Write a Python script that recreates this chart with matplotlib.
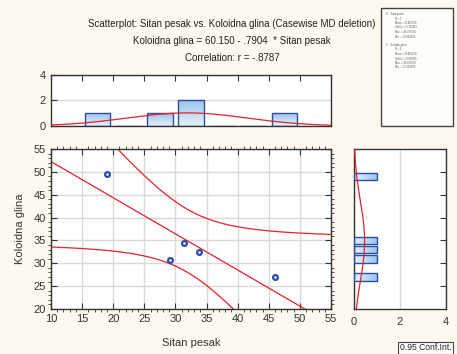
import matplotlib.pyplot as plt
import numpy as np
from matplotlib.ticker import MultipleLocator
from matplotlib.patches import Rectangle

sitan = np.array([19.0, 29.2, 31.3, 33.8, 46.0])
glina = np.array([49.5, 30.8, 34.5, 32.5, 27.0])
x_edges = np.arange(15, 55, 5)      # histogram bins for Sitan pesak
y_edges = np.arange(26, 52, 2)      # histogram bins for Koloidna glina
intercept, slope = 60.150, -0.7904
t_crit = 3.1824                     # t(0.975, df=3)

title_lines = ["Scatterplot: Sitan pesak vs. Koloidna glina (Casewise MD deletion)",
               "Koloidna glina = 60.150 - .7904  * Sitan pesak",
               "Correlation: r = -.8787"]
stats_x = ["X:   Sitan pesak", "N = 5", "Mean = 31.860000", "Std.Dv. = 9.702319",
           "Max. = 46.000000", "Min. = 19.000000"]
stats_y = ["Y:   Koloidna glina", "N = 5", "Mean = 34.860000", "Std.Dv. = 8.635855",
           "Max. = 49.500000", "Min. = 27.000000"]

plt.rcParams['font.family'] = ['Liberation Sans', 'DejaVu Sans']
BG = '#fdf9f0'
RED = '#e8202a'
BLUE = '#2a4ea6'
SPINE = '#333333'

W, H = 457, 354
fig = plt.figure(figsize=(W / 100, H / 100), dpi=100, facecolor=BG)


def box(l, t, r, b):
    return [l / W, 1 - b / H, (r - l) / W, (b - t) / H]


def style(ax):
    ax.set_facecolor('white')
    for s in ax.spines.values():
        s.set_color(SPINE)
        s.set_linewidth(1.0)
    ax.tick_params(colors=SPINE, labelcolor='#333333', labelsize=8, direction='in')


def grad_bar(ax, x0, y0, w, h, horizontal):
    rect = Rectangle((x0, y0), w, h, facecolor='none', edgecolor=BLUE, lw=1.0, zorder=3)
    ax.add_patch(rect)
    if w == 0 or h == 0:
        return
    g = np.linspace(0, 1, 64)
    img = g[None, :] if horizontal else g[::-1, None]
    im = ax.imshow(img, cmap=plt.matplotlib.colors.LinearSegmentedColormap.from_list(
        'b', ['#e6f1fb', '#9dc3ea']), extent=(x0, x0 + w, y0, y0 + h),
        aspect='auto', origin='upper', zorder=2, interpolation='bilinear')
    im.set_clip_path(rect)


# main scatter
ax = fig.add_axes(box(51, 149, 331, 309))
style(ax)
ax.set_xlim(10, 55)
ax.set_ylim(20, 55)
ax.xaxis.set_major_locator(MultipleLocator(5))
ax.yaxis.set_major_locator(MultipleLocator(5))
ax.xaxis.set_minor_locator(MultipleLocator(1))
ax.yaxis.set_minor_locator(MultipleLocator(1))
ax.tick_params(which='both', top=True, right=True)
ax.tick_params(which='major', length=4)
ax.tick_params(which='minor', length=2, color=SPINE)
ax.grid(True, which='major', color='#d9d9d9', lw=1.0)
ax.set_axisbelow(True)

n = len(sitan)
xm = sitan.mean()
sxx = ((sitan - xm) ** 2).sum()
resid = glina - (intercept + slope * sitan)
s = np.sqrt((resid ** 2).sum() / (n - 2))
xs = np.linspace(10, 55, 300)
fit = intercept + slope * xs
half = t_crit * s * np.sqrt(1 / n + (xs - xm) ** 2 / sxx)
for yy in (fit, fit - half, fit + half):
    ax.plot(xs, yy, color=RED, lw=0.9)
ax.scatter(sitan, glina, s=12, facecolor='white', edgecolor=BLUE, lw=1.6, zorder=4)
ax.set_xlabel("Sitan pesak", fontsize=8, color='#333333', labelpad=10)
ax.set_ylabel("Koloidna glina", fontsize=8, color='#333333', labelpad=6)

# top histogram
axt = fig.add_axes(box(51, 75, 331, 126))
style(axt)
axt.set_xlim(10, 55)
axt.set_ylim(0, 4)
axt.set_yticks([0, 2, 4])
axt.set_xticks(np.arange(10, 56, 5))
axt.tick_params(axis='x', bottom=False, top=True, labelbottom=False, length=4)
axt.tick_params(axis='y', length=4)
axt.grid(True, axis='y', color='#d9d9d9', lw=1.0)
axt.set_axisbelow(True)
cnt, _ = np.histogram(sitan, bins=x_edges)
for left, c in zip(x_edges[:-1], cnt):
    grad_bar(axt, left + 0.45, 0, 4.1, c, horizontal=False)
sx = sitan.std(ddof=1)
axt.plot(xs, n * 5 * np.exp(-0.5 * ((xs - xm) / sx) ** 2) / (sx * np.sqrt(2 * np.pi)),
         color=RED, lw=0.9, zorder=4)

# right histogram
axr = fig.add_axes(box(354, 149, 446, 309))
style(axr)
axr.set_ylim(20, 55)
axr.set_xlim(0, 4)
axr.set_xticks([0, 2, 4])
axr.set_yticks(np.arange(25, 55, 5))
axr.tick_params(axis='y', left=False, right=True, labelleft=False, length=4)
axr.tick_params(axis='x', length=0, pad=6)
axr.grid(True, axis='x', color='#d9d9d9', lw=1.0)
axr.set_axisbelow(True)
cnt, _ = np.histogram(glina, bins=y_edges)
for low, c in zip(y_edges[:-1], cnt):
    if c:
        grad_bar(axr, 0, low + 0.15, c, 1.7, horizontal=True)
ym = glina.mean()
sy = glina.std(ddof=1)
ys = np.linspace(20, 55, 300)
axr.plot(n * 2 * np.exp(-0.5 * ((ys - ym) / sy) ** 2) / (sy * np.sqrt(2 * np.pi)), ys,
         color=RED, lw=0.9, zorder=4)

# titles
for i, line in enumerate(title_lines):
    fig.text(232 / W, 1 - (24 + 17 * i) / H, line, ha='center', va='center',
             fontsize=7.0, color='#222222')

# stats box
fig.add_artist(Rectangle((381 / W, 1 - 126 / H), 72 / W, 118 / H, transform=fig.transFigure,
                         facecolor='#fffdf8', edgecolor='#444444', lw=1.0))
yy = 14
for block in (stats_x, stats_y):
    for j, line in enumerate(block):
        fig.text((386 if j == 0 else 395) / W, 1 - yy / H, line, fontsize=1.8,
                 color='#555555', va='center')
        yy += 4.5
    yy += 4

fig.text(400 / W, 1 - 348 / H, "0.95 Conf.Int.", fontsize=6.2, color='#222222', va='center',
         bbox=dict(boxstyle='square,pad=0.2', facecolor='white', edgecolor='#444444', lw=0.8))

fig.savefig('out.png', dpi=100, facecolor=BG)
